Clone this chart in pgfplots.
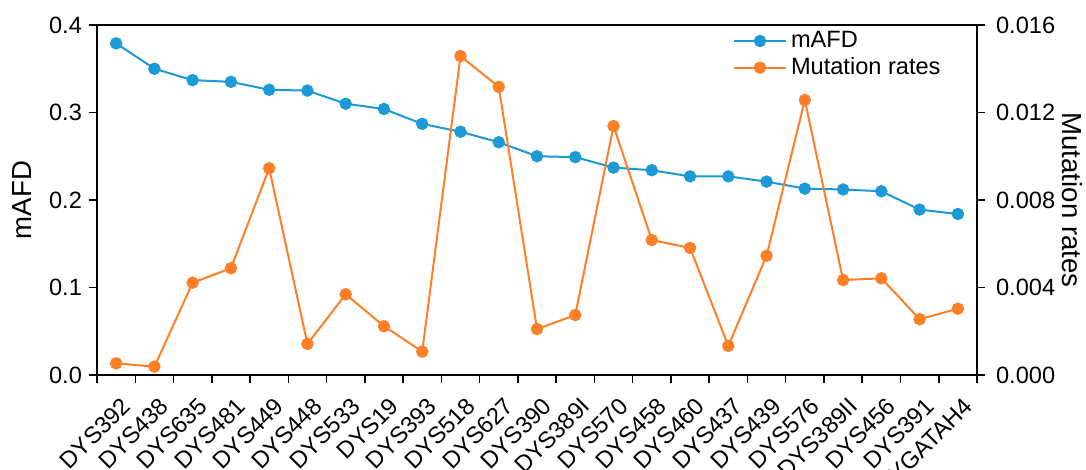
\documentclass[border=0pt]{standalone}
\usepackage{pgfplots}
\pgfplotsset{compat=1.18}
\usepackage{fontspec}
\setmainfont{Liberation Sans}
\definecolor{cblue}{RGB}{27,154,214}
\definecolor{corange}{RGB}{255,127,39}
\begin{document}
\begin{tikzpicture}
\pgfplotsset{
  common/.style={
    at={(48.5pt,47.5pt)}, anchor=south west, scale only axis,
    width=440pt, height=175pt, xmin=-0.5, xmax=22.5, ymin=0,
    font=\fontsize{11.8}{14}\selectfont,
    tick label style={font=\fontsize{11.8}{14}\selectfont},
    label style={font=\fontsize{13.8}{16}\selectfont},
    /pgf/number format/assume math mode=true,
    axis line style={line width=0.75pt},
    tick style={black, line width=0.75pt},
    major tick length=4pt, minor tick length=4pt,
    tick align=outside,
    scaled y ticks=false,
  },
  ser/.style={line width=1pt, mark=*, mark size=2.6pt},
}
\begin{axis}[common,
  axis y line*=left, xtick pos=bottom,
  ymax=0.4, ytick={0,0.1,0.2,0.3,0.4},
  yticklabel style={/pgf/number format/.cd, fixed, fixed zerofill, precision=1},
  xtick={0,...,22},
  xticklabels={DYS392,DYS438,DYS635,DYS481,DYS449,DYS448,DYS533,DYS19,DYS393,DYS518,DYS627,DYS390,DYS389I,DYS570,DYS458,DYS460,DYS437,DYS439,DYS576,DYS389II,DYS456,DYS391,YGATAH4},
  xticklabel style={rotate=45, anchor=north east, inner sep=1pt, xshift=-2pt, yshift=-5pt},
  major x tick style={draw=none},
  minor xtick={-0.5,0.5,...,22.5},
  ylabel={mAFD},
  ylabel style={at={(axis description cs:-0.0852,0.5)}, anchor=center},
]
\addplot[cblue, ser] coordinates {
(0,0.379) (1,0.350) (2,0.337) (3,0.335) (4,0.326) (5,0.325) (6,0.310) (7,0.304)
(8,0.287) (9,0.278) (10,0.266) (11,0.250) (12,0.249) (13,0.237) (14,0.234)
(15,0.227) (16,0.227) (17,0.221) (18,0.213) (19,0.212) (20,0.210) (21,0.189) (22,0.184)};
\end{axis}
\begin{axis}[common,
  axis y line*=right, axis x line=none,
  ymax=0.016, ytick={0,0.004,0.008,0.012,0.016},
  yticklabel style={xshift=2pt, /pgf/number format/.cd, fixed, fixed zerofill, precision=3},
  ylabel={Mutation rates},
  ylabel style={at={(axis description cs:1.108,0.5)}, anchor=center, rotate=180},
  legend style={draw=none, fill=none, at={(0.72,1)}, anchor=north west,
    font=\fontsize{11.8}{14}\selectfont, row sep=-0.5pt, inner sep=1pt},
  legend cell align=left,
  legend image code/.code={\draw[mark repeat=2,mark phase=2] plot coordinates {(0pt,0pt) (13pt,0pt) (26pt,0pt)};},
]
\addlegendimage{cblue, ser}
\addlegendentry{mAFD}
\addplot[corange, ser] coordinates {
(0,0.000535) (1,0.00038) (2,0.00422) (3,0.00488) (4,0.00945) (5,0.00142) (6,0.00369)
(7,0.00223) (8,0.00107) (9,0.01458) (10,0.01317) (11,0.00210) (12,0.00274) (13,0.01138)
(14,0.00617) (15,0.00581) (16,0.00133) (17,0.00545) (18,0.01257) (19,0.00434) (20,0.00442)
(21,0.00255) (22,0.00303)};
\addlegendentry{Mutation rates}
\end{axis}
\pgfresetboundingbox
\path[use as bounding box] (0,0) rectangle (543pt,235pt);
\end{tikzpicture}
\end{document}
